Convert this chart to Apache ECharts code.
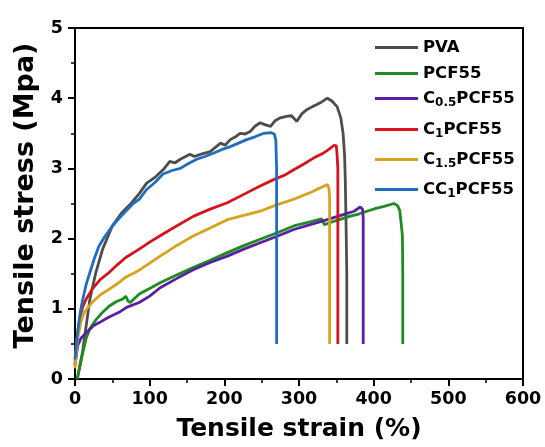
<!DOCTYPE html>
<html>
<head>
<meta charset="utf-8">
<script src="https://cdn.jsdelivr.net/npm/echarts@6/dist/echarts.min.js"></script>
<style>html,body{margin:0;padding:0;background:#fff;}#c{width:545px;height:447px;}</style>
</head>
<body>
<div id="c"></div>
<script>
// ---- data (strain %, stress MPa) ----
const seriesNames = ['PVA', 'PCF55', 'C0.5PCF55', 'C1PCF55', 'C1.5PCF55', 'CC1PCF55'];
const xTicks = [0, 100, 200, 300, 400, 500, 600];
const yTicks = [0, 1, 2, 3, 4, 5];

const pva = [[3,0],[10,0.38],[15,0.76],[20,1.14],[28,1.52],[37,1.85],[50,2.18],[62,2.36],[75,2.5],[86,2.64],[96,2.79],[108,2.88],[118,2.98],[127,3.1],[134,3.08],[141,3.13],[154,3.2],[160,3.17],[168,3.2],[175,3.22],[181,3.24],[188,3.3],[195,3.36],[201,3.33],[208,3.41],[215,3.45],[221,3.5],[228,3.49],[235,3.53],[241,3.6],[248,3.65],[255,3.62],[262,3.6],[268,3.68],[275,3.72],[283,3.74],[290,3.75],[297,3.67],[304,3.78],[311,3.84],[318,3.88],[324,3.91],[331,3.95],[338,4.0],[344,3.96],[351,3.88],[356,3.72],[359,3.5],[361,3.2],[362,2.84],[363,2.23],[364,1.5],[364,0.5]];
const pcf55 = [[3,0],[10.5,0.38],[15,0.58],[19.6,0.71],[28.5,0.85],[37,0.95],[46,1.04],[55,1.1],[64,1.14],[68,1.18],[71,1.11],[74,1.09],[86,1.21],[100,1.29],[114,1.37],[136,1.48],[159,1.59],[181,1.69],[204,1.8],[226,1.9],[248,1.99],[270,2.08],[293,2.18],[315,2.24],[330,2.28],[334,2.2],[345,2.24],[357,2.28],[369,2.32],[380,2.35],[391,2.39],[403,2.43],[414,2.46],[427,2.5],[432,2.47],[435,2.4],[437,2.2],[438.5,2.04],[439,1.5],[439,0.5]];
const c05 = [[0,0.19],[3.5,0.47],[8,0.58],[15,0.66],[24.6,0.76],[32,0.8],[45,0.88],[59,0.95],[69,1.02],[86,1.09],[100,1.18],[114,1.3],[136,1.43],[159,1.56],[181,1.66],[204,1.75],[226,1.85],[248,1.94],[270,2.03],[293,2.13],[315,2.2],[338,2.27],[356,2.33],[374,2.39],[382,2.45],[385,2.42],[386,2.3],[386,0.5]];
const c1 = [[0,0.2],[1.3,0.47],[6,0.85],[10,1.02],[15,1.14],[23,1.28],[34,1.42],[46,1.52],[57,1.63],[68,1.73],[86,1.85],[100,1.95],[114,2.04],[136,2.18],[159,2.32],[181,2.42],[204,2.51],[226,2.63],[248,2.75],[266,2.84],[280,2.9],[293,2.98],[306,3.06],[320,3.15],[333,3.22],[340,3.27],[347,3.33],[350,3.32],[351,3.2],[352,3.0],[352,0.5]];
const c15 = [[0,0.15],[3.5,0.57],[8,0.82],[12.4,0.95],[23,1.09],[34,1.2],[46,1.28],[57,1.36],[68,1.45],[86,1.55],[100,1.65],[114,1.75],[136,1.9],[159,2.04],[181,2.15],[204,2.27],[226,2.33],[248,2.39],[270,2.48],[293,2.56],[316,2.66],[338,2.77],[340,2.72],[341,2.6],[341,0.5]];
const cc1 = [[0,0.28],[3.5,0.66],[7,0.95],[10.5,1.14],[15,1.35],[20,1.52],[26,1.72],[32,1.89],[40,2.03],[50,2.18],[60,2.3],[68,2.39],[78,2.5],[86,2.56],[96,2.7],[107,2.8],[118,2.92],[130,2.97],[141,3.0],[152,3.07],[163,3.13],[174,3.17],[186,3.22],[197,3.27],[208,3.31],[219,3.36],[230,3.41],[241,3.45],[253,3.5],[262,3.51],[267,3.49],[269,3.4],[270,3.0],[270,0.5]];

const seriesData = [pva, pcf55, c05, c1, c15, cc1];
const colors = ['#4d4d4d', '#1e8c1e', '#5a1fa3', '#d7141e', '#d8a31a', '#1f6dbf'];
const legendTops = [45, 71, 96, 127, 157, 187];
const legendLabels = {
  'PVA': '{b|PVA}',
  'PCF55': '{b|PCF55}',
  'C0.5PCF55': '{b|C}{s|0.5}{b|PCF55}',
  'C1PCF55': '{b|C}{s|1}{b|PCF55}',
  'C1.5PCF55': '{b|C}{s|1.5}{b|PCF55}',
  'CC1PCF55': '{b|CC}{s|1}{b|PCF55}'
};

const FONT = "'DejaVu Sans', 'Liberation Sans', Arial, sans-serif";
const chart = echarts.init(document.getElementById('c'), null, {renderer: 'canvas'});

const axisCommon = {
  axisLine: {show: true, onZero: false, lineStyle: {color: '#000', width: 2}},
  axisTick: {show: true, inside: false, length: 7, lineStyle: {color: '#000', width: 2}},
  minorTick: {show: true, splitNumber: 2, length: 4, lineStyle: {color: '#000', width: 1.5}},
  splitLine: {show: false},
  axisLabel: {color: '#000', fontFamily: FONT, fontWeight: 'bold', fontSize: 17.5}
};

const option = {
  animation: false,
  color: colors,
  grid: {left: 75, right: 22, top: 28, bottom: 67, show: true, borderColor: '#000', borderWidth: 2, backgroundColor: 'transparent'},
  xAxis: Object.assign({}, axisCommon, {
    type: 'value', min: xTicks[0], max: xTicks[xTicks.length - 1], interval: 100,
    name: 'Tensile strain (%)', nameLocation: 'middle', nameGap: 38,
    nameTextStyle: {color: '#000', fontFamily: FONT, fontWeight: 'bold', fontSize: 25},
    axisLabel: Object.assign({}, axisCommon.axisLabel, {margin: 11})
  }),
  yAxis: Object.assign({}, axisCommon, {
    type: 'value', min: yTicks[0], max: yTicks[yTicks.length - 1], interval: 1,
    name: 'Tensile stress (Mpa)', nameLocation: 'middle', nameGap: 36,
    nameTextStyle: {color: '#000', fontFamily: FONT, fontWeight: 'bold', fontSize: 27, padding: [0, 0, 0, 16]},
    axisLabel: Object.assign({}, axisCommon.axisLabel, {margin: 12})
  }),
  legend: seriesNames.map((n, i) => ({
    data: [n], left: 370, top: legendTops[i] - 11,
    icon: 'rect', itemWidth: 43, itemHeight: 3, itemGap: 6,
    formatter: name => legendLabels[name],
    textStyle: {
      color: '#000', fontFamily: FONT, fontWeight: 'bold', fontSize: 16.5,
      rich: {
        b: {fontFamily: FONT, fontWeight: 'bold', fontSize: 16.5, color: '#000'},
        s: {fontFamily: FONT, fontWeight: 'bold', fontSize: 12, color: '#000', verticalAlign: 'bottom', padding: [8, 0, 0, 0]}
      }
    }
  })),
  series: seriesNames.map((n, i) => ({
    name: n, type: 'line', data: seriesData[i], showSymbol: false, symbol: 'none',
    lineStyle: {width: 2.8, color: colors[i]}, itemStyle: {color: colors[i]}
  }))
};
chart.setOption(option);
</script>
</body>
</html>
